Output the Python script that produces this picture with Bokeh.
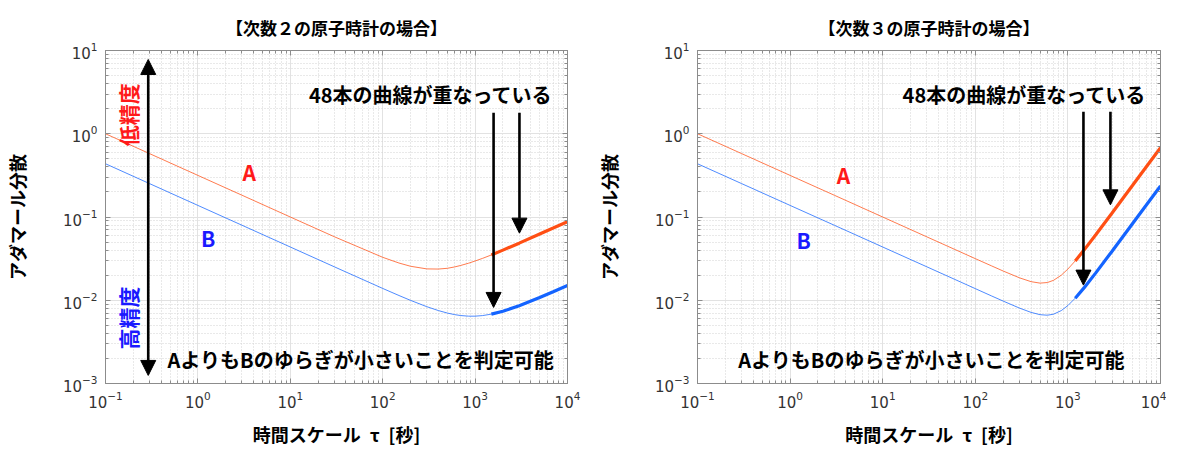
from math import pi
from bokeh.plotting import figure
from bokeh.models import Label, Arrow, NormalHead, FixedTicker, LogAxis
from bokeh.layouts import row
from bokeh.embed import file_html
from bokeh.resources import INLINE

# ---- data ----
tau = [0.1, 0.3, 1, 3, 10, 30, 100, 150, 200, 300, 400, 500, 600, 700, 850,
       1000, 1200, 1500, 2000, 3000, 5000, 7000, 10000]

order2_A = [1.0, 0.577, 0.316, 0.1826, 0.1, 0.0579, 0.0328, 0.028, 0.0256, 0.0238,
            0.0237, 0.0242, 0.02512, 0.0262, 0.02785, 0.0296, 0.03181, 0.035, 0.04,
            0.0485, 0.0624, 0.0737, 0.088]
order2_B = [0.436, 0.2517, 0.1378, 0.0796, 0.0436, 0.0252, 0.01387, 0.0114, 0.00997,
            0.00837, 0.00752, 0.00702, 0.00672, 0.00655, 0.00644, 0.00644, 0.00654,
            0.00681, 0.00738, 0.00859, 0.01078, 0.01266, 0.01506]

order3_A = [1.0, 0.577, 0.316, 0.1826, 0.1, 0.0577, 0.0316, 0.02586, 0.02244, 0.0186,
            0.01672, 0.01606, 0.01632, 0.01736, 0.02003, 0.02371, 0.02969, 0.0403,
            0.0612, 0.1118, 0.2404, 0.3981, 0.6797]
order3_B = [0.436, 0.2517, 0.1378, 0.0796, 0.0436, 0.0252, 0.01379, 0.01126, 0.00977,
            0.00805, 0.00715, 0.00671, 0.00661, 0.0068, 0.00752, 0.00864, 0.01059,
            0.01417, 0.02133, 0.03886, 0.08347, 0.1382, 0.236]

x_ticks = [0.1, 1, 10, 100, 1000, 10000]
y_ticks = [0.001, 0.01, 0.1, 1, 10]

titles = ["【次数２の原子時計の場合】", "【次数３の原子時計の場合】"]
x_label = "時間スケール\u2002τ\u2002[秒]"
y_label = "アダマール分散"
overlap_text = "48本の曲線が重なっている"
result_text = "AよりもBのゆらぎが小さいことを判定可能"

JP = "Noto Sans CJK JP"
ORANGE = "#ff4f14"
BLUE = "#1464ff"
AXIS_GRAY = "#8c8c8c"


def minor(ticks):
    out = []
    for d in ticks[:-1]:
        out += [m * d for m in range(2, 10)]
    return out


def style_ticks(ax):
    ax.axis_line_color = AXIS_GRAY
    ax.major_tick_in = 5
    ax.major_tick_out = 0
    ax.minor_tick_in = 3
    ax.minor_tick_out = 0
    ax.major_tick_line_color = AXIS_GRAY
    ax.minor_tick_line_color = AXIS_GRAY


def make(title, A, B, thick_from, border_left, border_right, ann):
    p = figure(width=583, height=449, x_axis_type="log", y_axis_type="log",
               x_range=(0.1, 1e4), y_range=(1e-3, 10),
               output_backend="svg", toolbar_location=None,
               min_border_left=border_left, min_border_right=border_right,
               min_border_top=50, min_border_bottom=66, title=title)
    p.title.align = "center"
    p.title.text_font = JP
    p.title.text_font_size = "17px"
    p.title.text_font_style = "bold"
    p.title.text_color = "black"
    p.title.standoff = 21

    p.outline_line_color = AXIS_GRAY
    p.outline_line_width = 1
    p.background_fill_color = "white"
    p.border_fill_color = "white"

    p.xaxis.ticker = FixedTicker(ticks=x_ticks, minor_ticks=minor(x_ticks))
    p.yaxis.ticker = FixedTicker(ticks=y_ticks, minor_ticks=minor(y_ticks))
    for ax in (p.xaxis[0], p.yaxis[0]):
        style_ticks(ax)
        ax.major_label_text_font = "DejaVu Sans"
        ax.major_label_text_font_size = "15px"
        ax.major_label_text_color = "#333333"
        ax.axis_label_text_font = JP
        ax.axis_label_text_font_style = "bold"
        ax.axis_label_text_font_size = "18px"
        ax.axis_label_text_color = "black"
    p.xaxis.major_label_standoff = 7
    p.xaxis.axis_label = x_label
    p.xaxis.axis_label_standoff = 10
    p.yaxis.major_label_standoff = 8
    p.yaxis.axis_label = y_label
    p.yaxis.axis_label_standoff = 30

    # box ticks on top and right (labels invisible)
    top = LogAxis(ticker=FixedTicker(ticks=x_ticks, minor_ticks=minor(x_ticks)),
                  major_label_text_font_size="1px", major_label_text_alpha=0,
                  major_label_standoff=0)
    right = LogAxis(ticker=FixedTicker(ticks=y_ticks, minor_ticks=minor(y_ticks)),
                    major_label_text_font_size="1px", major_label_text_alpha=0,
                    major_label_standoff=0)
    style_ticks(top)
    style_ticks(right)
    p.add_layout(top, "above")
    p.add_layout(right, "right")

    for g in (p.xgrid[0], p.ygrid[0]):
        g.grid_line_color = "#e2e2e2"
        g.grid_line_width = 1
        g.minor_grid_line_color = "#d2d2d2"
        g.minor_grid_line_dash = "1 2"
        g.minor_grid_line_width = 1

    # thin full curves
    p.line(tau, A, line_color=ORANGE, line_width=1, line_alpha=0.75)
    p.line(tau, B, line_color=BLUE, line_width=1, line_alpha=0.75)
    # thick part: 48 overlapping curves
    idx = [i for i, t in enumerate(tau) if t >= thick_from]
    p.line([tau[i] for i in idx], [A[i] for i in idx], line_color=ORANGE, line_width=3.2)
    p.line([tau[i] for i in idx], [B[i] for i in idx], line_color=BLUE, line_width=3.2)

    # annotations
    p.add_layout(Label(x=ann["overlap"][0], y=ann["overlap"][1], text=overlap_text,
                       text_font=JP, text_font_style="bold", text_font_size="20px",
                       text_align="center", text_baseline="middle", text_color="black"))
    p.add_layout(Label(x=ann["result"][0], y=ann["result"][1], text=result_text,
                       text_font=JP, text_font_style="bold", text_font_size="20px",
                       text_align="center", text_baseline="middle", text_color="black"))
    p.add_layout(Label(x=ann["A"][0], y=ann["A"][1], text="A", text_font=JP,
                       text_font_style="bold", text_font_size="21px", text_color="#ff1a1a",
                       text_align="center", text_baseline="middle"))
    p.add_layout(Label(x=ann["B"][0], y=ann["B"][1], text="B", text_font=JP,
                       text_font_style="bold", text_font_size="21px", text_color="#1a1aff",
                       text_align="center", text_baseline="middle"))
    for (xa, y0, y1) in ann["arrows"]:
        p.add_layout(Arrow(x_start=xa, y_start=y0, x_end=xa, y_end=y1, line_width=2.6,
                           line_color="black",
                           end=NormalHead(size=15, fill_color="black", line_color="black")))
    if ann.get("big"):
        xa, y0, y1 = ann["big"]
        p.add_layout(Arrow(x_start=xa, y_start=y0, x_end=xa, y_end=y1, line_width=2.6,
                           line_color="black",
                           start=NormalHead(size=15, fill_color="black", line_color="black"),
                           end=NormalHead(size=15, fill_color="black", line_color="black")))
        p.add_layout(Label(x=0.177, y=1.69, text="低精度", text_font=JP,
                           text_font_style="bold", text_font_size="21px",
                           text_color="#ff1a1a", angle=pi / 2,
                           text_align="center", text_baseline="middle"))
        p.add_layout(Label(x=0.177, y=0.0061, text="高精度", text_font=JP,
                           text_font_style="bold", text_font_size="21px",
                           text_color="#1a1aff", angle=pi / 2,
                           text_align="center", text_baseline="middle"))
    return p


ann_left = dict(overlap=(331, 2.95), result=(58, 0.00195), A=(3.6, 0.35), B=(1.29, 0.056),
                arrows=[(1585, 1.79, 0.0082), (3020, 1.79, 0.064)],
                big=(0.29, 0.00125, 7.8))
ann_right = dict(overlap=(339, 2.95), result=(33.7, 0.00195), A=(3.77, 0.32), B=(1.4, 0.053),
                 arrows=[(1472, 1.84, 0.0152), (2880, 1.84, 0.14)])

p1 = make(titles[0], order2_A, order2_B, 1500, 104, 16, ann_left)
p2 = make(titles[1], order3_A, order3_B, 1200, 114, 6, ann_right)

layout = row(p1, p2)
open("out.html", "w").write(file_html(layout, INLINE))
